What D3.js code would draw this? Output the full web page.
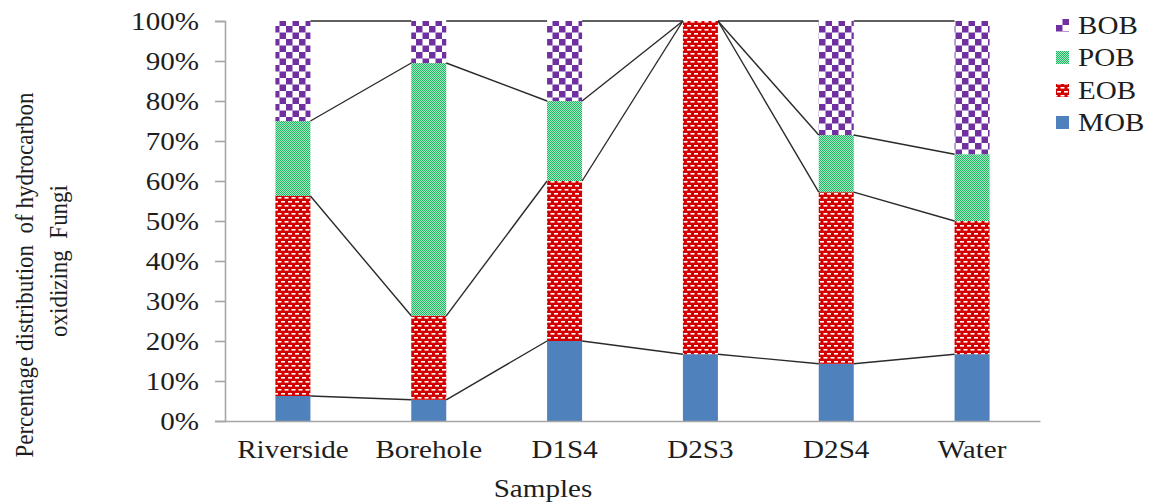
<!DOCTYPE html>
<html>
<head>
<meta charset="utf-8">
<script src="https://cdn.jsdelivr.net/npm/d3@7"></script>
<style>
  html, body { margin: 0; padding: 0; background: #fff; }
  text { font-family: "Liberation Serif", "Times New Roman", serif; fill: #1e1e1e; white-space: pre; }
</style>
</head>
<body>
<svg id="chart" width="1155" height="504"></svg>
<script>
// data (percent)
const categories = ["Riverside", "Borehole", "D1S4", "D2S3", "D2S4", "Water"];
const seriesNames = ["MOB", "EOB", "POB", "BOB"];
const MOB = [6.25, 5.3, 20.0, 16.7, 14.3, 16.7];
const EOB = [50.0, 21.0, 40.0, 83.3, 42.9, 33.3];
const POB = [18.75, 63.2, 20.0, 0, 14.3, 16.7];
const BOB = [25.0, 10.5, 20.0, 0, 28.5, 33.3];
const yTicks = [0, 10, 20, 30, 40, 50, 60, 70, 80, 90, 100];

const stretch = 1.12; // text in the picture is a bit wide

const svg = d3.select("#chart");
const defs = svg.append("defs");

// fill patterns
const pMOB = "#4F81BD";

const pe = defs.append("pattern").attr("id", "pat-EOB")
  .attr("patternUnits", "userSpaceOnUse").attr("width", 7).attr("height", 8);
pe.append("rect").attr("width", 7).attr("height", 8).attr("fill", "#D40000");
pe.append("rect").attr("x", 1).attr("y", 1).attr("width", 4).attr("height", 1.6).attr("fill", "#ffffff");
pe.append("rect").attr("x", 4.5).attr("y", 5).attr("width", 2.5).attr("height", 1.6).attr("fill", "#ffffff");
pe.append("rect").attr("x", 0).attr("y", 5).attr("width", 1.5).attr("height", 1.6).attr("fill", "#ffffff");

const pp = defs.append("pattern").attr("id", "pat-POB")
  .attr("patternUnits", "userSpaceOnUse").attr("width", 2).attr("height", 2);
pp.append("rect").attr("width", 2).attr("height", 2).attr("fill", "#a8e8c2");
pp.append("rect").attr("x", 0).attr("y", 0).attr("width", 1).attr("height", 1).attr("fill", "#1DB763");
pp.append("rect").attr("x", 1).attr("y", 1).attr("width", 1).attr("height", 1).attr("fill", "#1DB763");

const pb = defs.append("pattern").attr("id", "pat-BOB")
  .attr("patternUnits", "userSpaceOnUse").attr("width", 13).attr("height", 13);
pb.append("rect").attr("width", 13).attr("height", 13).attr("fill", "#fff");
pb.append("rect").attr("x", 0).attr("y", 0).attr("width", 6.5).attr("height", 6.5).attr("fill", "#7030A0");
pb.append("rect").attr("x", 6.5).attr("y", 6.5).attr("width", 6.5).attr("height", 6.5).attr("fill", "#7030A0");

const fills = { MOB: pMOB, EOB: "url(#pat-EOB)", POB: "url(#pat-POB)", BOB: "url(#pat-BOB)" };

// scales
const x = d3.scaleBand().domain(categories).range([225, 1040])
  .paddingInner(1 - 35 / (815 / 6)).paddingOuter((1 - 35 / (815 / 6)) / 2);
const y = d3.scaleLinear().domain([0, 100]).range([421, 21]);

const rows = categories.map((c, i) => ({ cat: c, MOB: MOB[i], EOB: EOB[i], POB: POB[i], BOB: BOB[i] }));
const stacked = d3.stack().keys(seriesNames)(rows);

// bars
svg.append("g").selectAll("g").data(stacked).join("g")
  .attr("fill", d => fills[d.key])
  .selectAll("rect").data(d => d).join("rect")
  .attr("x", d => x(d.data.cat))
  .attr("y", d => y(d[1]))
  .attr("width", x.bandwidth())
  .attr("height", d => y(d[0]) - y(d[1]));

// series lines between bars
const links = [];
stacked.forEach(s => {
  for (let i = 0; i < s.length - 1; i++) {
    links.push({ x1: x(categories[i]) + x.bandwidth(), y1: y(s[i][1]), x2: x(categories[i + 1]), y2: y(s[i + 1][1]) });
  }
});
svg.append("g").selectAll("line").data(links).join("line")
  .attr("x1", d => d.x1).attr("y1", d => d.y1)
  .attr("x2", d => d.x2).attr("y2", d => d.y2)
  .attr("stroke", "#2a2a2a").attr("stroke-width", 1.4);

// y axis
const yAxis = svg.append("g").attr("transform", "translate(225,0)")
  .call(d3.axisLeft(y).tickValues(yTicks).tickFormat(d => d + "%").tickSize(10).tickPadding(16));
yAxis.select(".domain").attr("stroke", "#A6A6A6").attr("stroke-width", 1.6);
yAxis.selectAll(".tick line").attr("stroke", "#A6A6A6").attr("stroke-width", 1.6);
yAxis.selectAll(".tick text")
  .attr("font-size", 26).attr("fill", "#1e1e1e")
  .attr("font-family", null)
  .attr("x", -26 / stretch).attr("dy", "0.34em")
  .attr("transform", `scale(${stretch},1)`);

// x axis
const xAxis = svg.append("g").attr("transform", "translate(0,421)")
  .call(d3.axisBottom(x).tickSize(0).tickPadding(0));
xAxis.select(".domain").attr("stroke", "#A6A6A6").attr("stroke-width", 1.6);
xAxis.selectAll(".tick text")
  .attr("font-size", 26).attr("fill", "#1e1e1e")
  .attr("font-family", null)
  .attr("y", 37).attr("dy", 0)
  .attr("transform", `scale(${stretch},1)`);

// axis titles
svg.append("text")
  .attr("transform", `translate(543,497) scale(${stretch},1)`)
  .attr("text-anchor", "middle").attr("font-size", 26)
  .text("Samples");

svg.append("text")
  .attr("transform", `translate(33,275) scale(${stretch},1) rotate(-90)`)
  .attr("text-anchor", "middle").attr("font-size", 23)
  .text("Percentage distribution  of hydrocarbon");
svg.append("text")
  .attr("transform", `translate(67,261) scale(${stretch},1) rotate(-90)`)
  .attr("text-anchor", "middle").attr("font-size", 23)
  .text("oxidizing  Fungi");

// legend (top entry is last series)
const legendKeys = seriesNames.slice().reverse();
const legendY = [25, 57, 90, 122];
const lg = svg.append("g").selectAll("g").data(legendKeys).join("g")
  .attr("transform", (d, i) => `translate(1056,${legendY[i]})`);
lg.append("rect").attr("x", 0).attr("y", -6).attr("width", 13).attr("height", 13)
  .attr("fill", d => fills[d]);
lg.append("text")
  .attr("transform", `translate(22,9) scale(${stretch},1)`)
  .attr("font-size", 26)
  .text(d => d);
</script>
</body>
</html>
